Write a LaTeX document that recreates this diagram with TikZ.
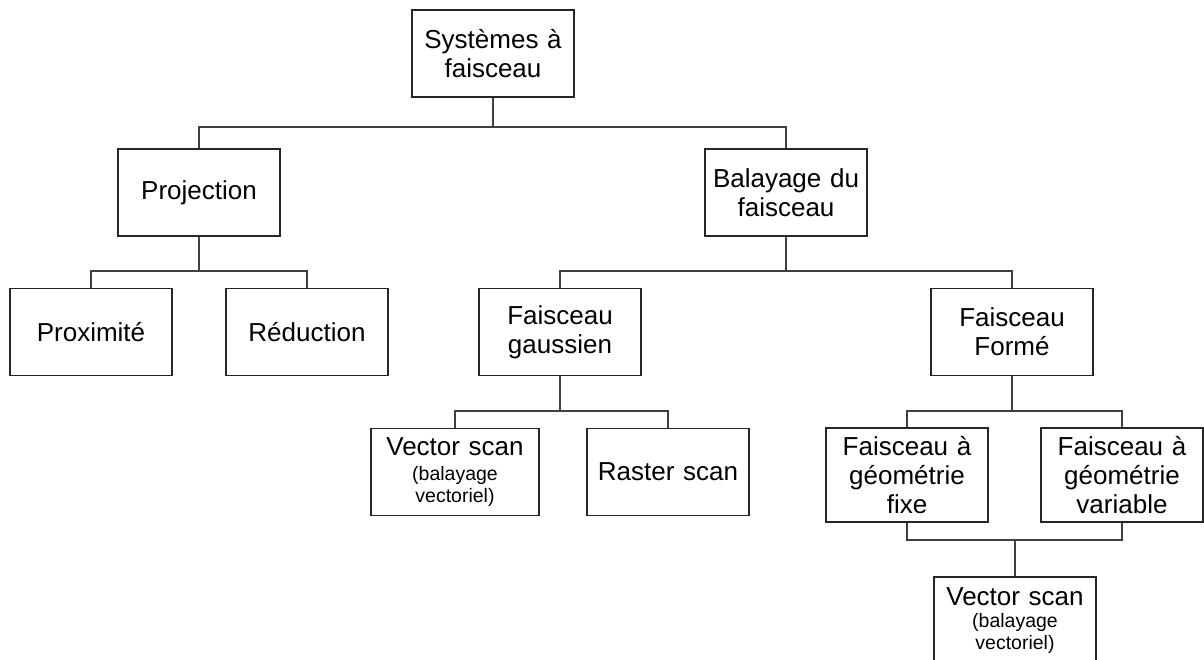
\documentclass[tikz,border=0pt]{standalone}
\usepackage{fontspec}
\setmainfont{Liberation Sans}
\newcommand\smallfnt{\fontsize{19.5}{22}\selectfont}
\begin{document}
\begin{tikzpicture}[x=1pt,y=-1pt,
  box/.style={draw=black!85, line width=1.2pt, inner sep=0pt,
    minimum width=162pt, minimum height=87pt, text width=156pt,
    align=center, text=black, font=\fontsize{26}{29}\selectfont},
  conn/.style={draw=black!75, line width=1.2pt}]
\useasboundingbox (0,0) rectangle (1204,660);
% nodes
\node[box] (top) at (493,53.5) {Systèmes à\\faisceau};
\node[box] (proj) at (199,192.5) {Projection};
\node[box] (bal) at (786,192.5) {Balayage du\\faisceau};
\node[box] (prox) at (91,332) {Proximité};
\node[box] (red) at (307,332) {Réduction};
\node[box] (gau) at (560,332) {Faisceau\\gaussien};
\node[box] (form) at (1012,332) {Faisceau\\Formé};
\node[box, minimum width=168pt] (vs1) at (455,472) {Vector scan\par\vspace{3pt}{\smallfnt (balayage\\vectoriel)\par}};
\node[box] (ras) at (668,472) {Raster scan};
\node[box, minimum height=94pt] (fixe) at (907,475) {Faisceau à\\géométrie\\fixe};
\node[box, minimum height=94pt] (var) at (1122,475) {Faisceau à\\géométrie\\variable};
\node[box] (vs2) at (1015,620.5) {Vector scan\par{\smallfnt (balayage\\vectoriel)\par}};
% bar coordinates
\coordinate (b1) at (493,127);
\coordinate (b2) at (199,271);
\coordinate (b3) at (786,271);
\coordinate (b4) at (560,411);
\coordinate (b5) at (1012,411);
\coordinate (b6) at (1015,540);
% connectors
\draw[conn] (top.south) -- (b1);
\draw[conn] (proj.north) -- (proj.north |- b1) -- (bal.north |- b1) -- (bal.north);
\draw[conn] (proj.south) -- (b2);
\draw[conn] (prox.north) -- (prox.north |- b2) -- (red.north |- b2) -- (red.north);
\draw[conn] (bal.south) -- (b3);
\draw[conn] (gau.north) -- (gau.north |- b3) -- (form.north |- b3) -- (form.north);
\draw[conn] (gau.south) -- (b4);
\draw[conn] (vs1.north) -- (vs1.north |- b4) -- (ras.north |- b4) -- (ras.north);
\draw[conn] (form.south) -- (b5);
\draw[conn] (fixe.north) -- (fixe.north |- b5) -- (var.north |- b5) -- (var.north);
\draw[conn] (fixe.south) -- (fixe.south |- b6) -- (var.south |- b6) -- (var.south);
\draw[conn] (b6) -- (vs2.north);
\end{tikzpicture}
\end{document}
